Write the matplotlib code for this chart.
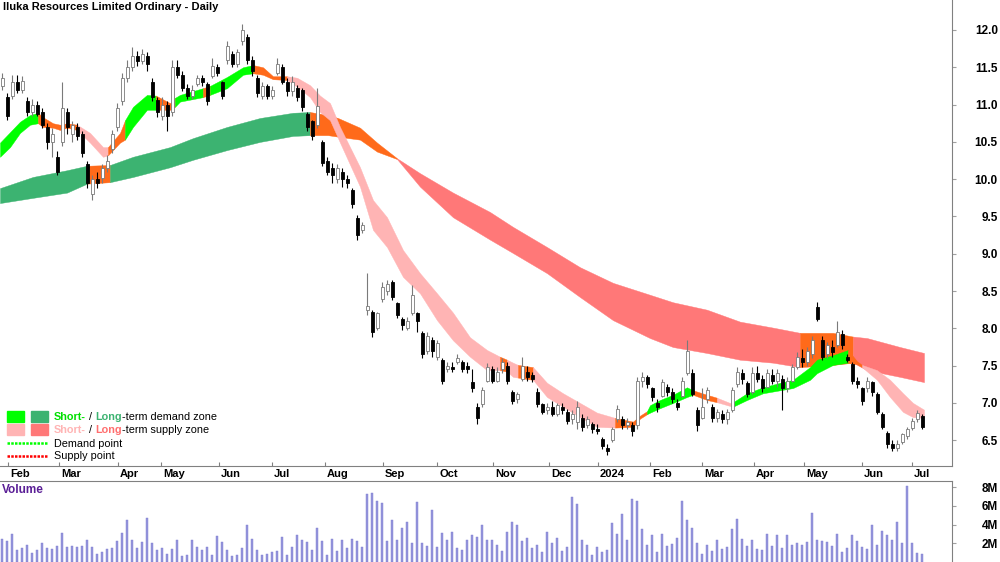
import numpy as np
import matplotlib.pyplot as plt
from matplotlib.patches import Rectangle
from matplotlib.lines import Line2D
from matplotlib.transforms import blended_transform_factory

plt.rcParams['font.family'] = ['Liberation Sans', 'DejaVu Sans']

title = 'Iluka Resources Limited Ordinary - Daily'

# month ticks (trading day index)
month_days = [2.4, 22.8, 46.4, 63.6, 86.8, 108, 129.2, 152.4, 174, 196.4,
              218.8, 238.4, 259.2, 280, 300.8, 320.8, 344, 364]
month_labels = ['Feb', 'Mar', 'Apr', 'May', 'Jun', 'Jul', 'Aug', 'Sep', 'Oct', 'Nov',
                'Dec', '2024', 'Feb', 'Mar', 'Apr', 'May', 'Jun', 'Jul']

# price bars, one every second trading day
opens = [11.25, 11.10, 11.12, 11.30, 11.20, 11.05, 10.90, 11.00, 10.90, 10.70,
         10.50, 10.30, 10.50, 10.90, 10.60, 10.70, 10.60, 10.20, 9.80, 10.00,
         10.02, 10.15, 10.40, 10.70, 11.05, 11.35, 11.50, 11.65, 11.58, 11.65,
         11.30, 11.06, 10.85, 11.00, 10.90, 11.50, 11.40, 11.22, 11.12, 11.28,
         11.35, 11.28, 11.38, 11.50, 11.30, 11.60, 11.68, 11.55, 11.85, 11.90,
         11.60, 11.35, 11.12, 11.25, 11.12, 11.42, 11.50, 11.30, 11.18, 11.22,
         11.20, 10.88, 10.78, 10.72, 10.50, 10.25, 10.15, 10.00, 10.10, 10.00,
         9.85, 9.48, 9.32, 8.25, 8.22, 8.00, 8.40, 8.50, 8.62, 8.34,
         8.12, 8.00, 8.20, 8.20, 7.94, 7.70, 7.85, 7.62, 7.57, 7.45,
         7.48, 7.55, 7.55, 7.50, 7.28, 6.95, 6.98, 7.30, 7.45, 7.30,
         7.45, 7.50, 7.15, 7.05, 7.32, 7.42, 7.38, 7.15, 6.98, 6.90,
         6.95, 6.85, 6.95, 6.88, 6.78, 6.75, 6.80, 6.70, 6.72, 6.65,
         6.52, 6.40, 6.50, 6.78, 6.78, 6.70, 6.70, 6.70, 7.30, 7.35,
         7.20, 7.00, 7.10, 7.22, 7.15, 7.00, 7.10, 7.40, 7.40, 6.90,
         6.80, 7.05, 6.95, 6.80, 6.85, 6.78, 6.90, 7.25, 7.40, 7.27,
         7.15, 7.40, 7.32, 7.22, 7.38, 7.30, 7.32, 7.20, 7.30, 7.48,
         7.60, 7.55, 7.65, 8.28, 7.85, 7.65, 7.75, 7.78, 7.92, 7.62,
         7.52, 7.30, 7.20, 7.20, 7.28, 7.12, 6.85, 6.60, 6.45, 6.40,
         6.48, 6.56, 6.66, 6.78, 6.82]
highs = [11.42, 11.15, 11.40, 11.40, 11.38, 11.10, 11.08, 11.05, 10.95, 10.75,
         10.68, 10.38, 11.30, 10.95, 10.78, 10.75, 10.65, 10.25, 10.05, 10.10,
         10.20, 10.32, 10.66, 11.02, 11.42, 11.60, 11.77, 11.72, 11.75, 11.70,
         11.35, 11.10, 11.10, 11.05, 11.60, 11.60, 11.45, 11.28, 11.26, 11.40,
         11.40, 11.30, 11.62, 11.55, 11.32, 11.85, 11.72, 11.75, 12.08, 11.95,
         11.65, 11.40, 11.30, 11.28, 11.25, 11.62, 11.55, 11.35, 11.38, 11.26,
         11.22, 10.90, 10.80, 11.22, 10.52, 10.30, 10.22, 10.20, 10.15, 10.05,
         9.88, 9.52, 9.42, 8.74, 8.25, 8.22, 8.62, 8.65, 8.65, 8.36,
         8.15, 8.15, 8.58, 8.22, 7.96, 7.95, 7.88, 7.85, 7.60, 7.55,
         7.55, 7.65, 7.58, 7.55, 7.45, 7.00, 7.22, 7.53, 7.50, 7.48,
         7.60, 7.55, 7.18, 7.15, 7.62, 7.50, 7.42, 7.20, 7.00, 7.00,
         7.02, 7.00, 7.00, 6.92, 6.90, 7.02, 6.85, 6.82, 6.75, 6.72,
         6.55, 6.45, 6.68, 6.97, 6.82, 6.80, 6.75, 7.35, 7.42, 7.38,
         7.22, 7.05, 7.32, 7.25, 7.20, 7.05, 7.35, 7.85, 7.45, 6.95,
         7.20, 7.22, 6.98, 6.92, 6.90, 6.92, 7.22, 7.48, 7.45, 7.30,
         7.48, 7.50, 7.38, 7.45, 7.45, 7.45, 7.38, 7.35, 7.52, 7.68,
         7.72, 7.75, 7.90, 8.35, 7.90, 7.82, 7.85, 8.10, 7.98, 7.66,
         7.55, 7.35, 7.22, 7.35, 7.30, 7.15, 6.88, 6.62, 6.50, 6.50,
         6.60, 6.68, 6.80, 6.90, 6.85]
lows = [11.20, 10.80, 11.08, 11.15, 11.15, 10.85, 10.85, 10.85, 10.68, 10.40,
        10.30, 10.05, 10.45, 10.60, 10.50, 10.52, 10.30, 9.88, 9.72, 9.88,
        9.95, 10.10, 10.35, 10.65, 11.00, 11.30, 11.45, 11.52, 11.55, 11.45,
        11.05, 10.83, 10.80, 10.64, 10.85, 11.35, 11.18, 11.08, 11.08, 11.25,
        11.25, 11.00, 11.35, 11.38, 11.08, 11.55, 11.50, 11.50, 11.80, 11.55,
        11.38, 11.10, 11.08, 11.08, 11.08, 11.40, 11.28, 11.12, 11.12, 11.05,
        10.92, 10.65, 10.52, 10.68, 10.18, 10.05, 9.95, 9.95, 9.90, 9.88,
        9.62, 9.18, 9.28, 8.18, 7.88, 7.98, 8.36, 8.45, 8.38, 8.14,
        7.98, 7.98, 8.18, 7.95, 7.60, 7.65, 7.62, 7.57, 7.25, 7.42,
        7.42, 7.52, 7.42, 7.40, 7.15, 6.72, 6.95, 7.28, 7.27, 7.28,
        7.40, 7.25, 6.98, 7.00, 7.30, 7.30, 7.28, 6.95, 6.85, 6.85,
        6.82, 6.82, 6.85, 6.72, 6.72, 6.65, 6.63, 6.66, 6.60, 6.58,
        6.38, 6.30, 6.48, 6.75, 6.65, 6.65, 6.56, 6.65, 7.22, 7.20,
        7.03, 6.88, 7.08, 7.10, 7.00, 6.90, 7.08, 7.38, 7.10, 6.62,
        6.78, 7.00, 6.75, 6.75, 6.73, 6.72, 6.88, 7.22, 7.25, 7.08,
        7.12, 7.28, 7.15, 7.20, 7.25, 7.22, 6.90, 7.15, 7.28, 7.45,
        7.48, 7.50, 7.60, 8.10, 7.58, 7.60, 7.62, 7.75, 7.72, 7.55,
        7.25, 7.20, 6.97, 7.15, 7.10, 6.85, 6.65, 6.40, 6.35, 6.35,
        6.45, 6.52, 6.64, 6.75, 6.65]
closes = [11.35, 10.85, 11.30, 11.20, 11.32, 10.90, 11.00, 10.88, 10.72, 10.50,
          10.60, 10.10, 10.95, 10.70, 10.72, 10.58, 10.35, 9.95, 10.00, 9.95,
          10.15, 10.25, 10.60, 10.95, 11.35, 11.50, 11.65, 11.58, 11.68, 11.55,
          11.10, 10.90, 11.00, 10.85, 11.50, 11.40, 11.22, 11.12, 11.20, 11.35,
          11.30, 11.05, 11.52, 11.42, 11.12, 11.78, 11.55, 11.70, 12.00, 11.60,
          11.45, 11.15, 11.25, 11.12, 11.20, 11.55, 11.30, 11.18, 11.30, 11.10,
          10.97, 10.70, 10.58, 10.98, 10.22, 10.10, 10.05, 10.15, 10.00, 9.95,
          9.67, 9.25, 9.38, 8.30, 7.95, 8.20, 8.55, 8.60, 8.42, 8.18,
          8.05, 8.10, 8.45, 8.10, 7.65, 7.90, 7.70, 7.80, 7.30, 7.50,
          7.46, 7.60, 7.46, 7.45, 7.20, 6.80, 7.18, 7.48, 7.30, 7.42,
          7.55, 7.30, 7.02, 7.12, 7.50, 7.35, 7.32, 6.98, 6.88, 6.95,
          6.85, 6.97, 6.90, 6.76, 6.85, 6.95, 6.68, 6.78, 6.65, 6.62,
          6.42, 6.35, 6.65, 6.92, 6.70, 6.75, 6.62, 7.30, 7.35, 7.25,
          7.08, 6.95, 7.28, 7.15, 7.05, 6.95, 7.30, 7.70, 7.12, 6.70,
          6.95, 7.18, 6.80, 6.88, 6.78, 6.88, 7.18, 7.42, 7.32, 7.12,
          7.40, 7.32, 7.20, 7.40, 7.30, 7.40, 7.20, 7.30, 7.48, 7.62,
          7.55, 7.70, 7.85, 8.12, 7.62, 7.78, 7.68, 7.95, 7.78, 7.58,
          7.30, 7.25, 7.02, 7.30, 7.15, 6.88, 6.68, 6.45, 6.40, 6.45,
          6.58, 6.65, 6.76, 6.86, 6.68]
volume_m = [2.5, 2.2, 3.0, 1.3, 1.5, 1.8, 1.0, 1.3, 2.0, 1.5,
            1.4, 1.7, 3.1, 1.6, 1.7, 1.6, 1.7, 2.4, 1.6, 0.9,
            1.1, 1.4, 1.5, 2.2, 3.1, 4.5, 2.4, 1.5, 2.1, 4.7,
            2.0, 1.3, 1.5, 0.9, 1.4, 2.4, 0.6, 0.8, 2.3, 1.6,
            1.3, 1.6, 0.8, 2.8, 2.1, 1.3, 0.6, 0.8, 1.5, 3.9,
            2.5, 1.3, 0.8, 0.9, 1.1, 1.2, 2.7, 0.8, 1.6, 2.9,
            2.3, 2.1, 1.3, 3.6, 2.2, 0.8, 2.5, 1.2, 2.4, 1.5,
            2.5, 2.2, 1.6, 7.3, 7.4, 6.5, 6.3, 2.2, 4.5, 2.4,
            3.6, 4.3, 2.0, 6.4, 2.0, 1.7, 5.6, 1.6, 3.1, 2.4,
            3.2, 1.5, 1.3, 2.4, 2.9, 2.7, 4.0, 2.4, 2.4, 1.8,
            1.2, 3.2, 4.3, 3.9, 2.2, 2.6, 1.5, 1.8, 1.1, 3.2,
            2.0, 2.6, 1.2, 1.6, 6.9, 6.2, 2.4, 1.8, 0.7, 1.6,
            1.1, 1.3, 4.2, 3.0, 5.1, 2.4, 6.7, 6.5, 3.5, 1.8,
            2.9, 1.1, 3.0, 1.7, 1.9, 2.6, 6.5, 4.5, 3.6, 2.0,
            0.9, 1.8, 1.2, 2.4, 1.4, 1.6, 3.5, 4.6, 2.5, 1.7,
            2.4, 1.4, 1.3, 3.0, 1.7, 2.9, 1.5, 2.9, 1.8, 2.0,
            1.8, 2.1, 5.2, 2.4, 2.2, 2.1, 1.7, 3.0, 1.1, 1.5,
            2.9, 2.2, 1.6, 1.4, 4.0, 1.8, 3.3, 2.9, 2.3, 4.3,
            2.0, 8.1, 2.0, 1.0, 0.9]
days = np.arange(len(closes)) * 2

# long-term zone (edges) and where its colour changes
lt_days = [-0.8, 12.4, 26, 34, 43.2, 52.4, 67.2, 76.4, 90, 103.2,
           116.4, 123.2, 130.4, 134.4, 143.2, 150, 158, 167.2, 180.4, 195.2,
           204.4, 218, 231.2, 244.4, 259.2, 268.4, 282, 295.2, 308.4, 319.2,
           332.4, 340.4, 346, 359.2, 368.8]
lt_top = [9.88, 10.03, 10.12, 10.18, 10.19, 10.30, 10.43, 10.55, 10.70, 10.82,
          10.89, 10.90, 10.86, 10.82, 10.69, 10.49, 10.28, 10.08, 9.82, 9.56,
          9.36, 9.09, 8.82, 8.61, 8.45, 8.35, 8.25, 8.09, 8.01, 7.94,
          7.94, 7.89, 7.87, 7.75, 7.67]
lt_bot = [9.68, 9.75, 9.82, 9.94, 9.96, 10.03, 10.16, 10.26, 10.39, 10.50,
          10.58, 10.59, 10.59, 10.57, 10.53, 10.37, 10.27, 9.90, 9.49, 9.19,
          9.01, 8.74, 8.42, 8.11, 7.87, 7.75, 7.67, 7.58, 7.54, 7.48,
          7.51, 7.54, 7.44, 7.35, 7.28]
lt_start = [0, 3, 4, 11, 16, 29, 31]
lt_zone = ['ld', 'mix', 'ld', 'mix', 'ls', 'mix', 'ls']

# short-term zone
st_days = [-0.8, 3.2, 7.2, 11.2, 14.4, 16.4, 20.4, 23.2, 26, 30,
           35.2, 40.4, 42.4, 47.2, 49.2, 52.4, 58, 61.6, 67.2, 69.2,
           71.2, 80.4, 83.2, 90, 96.4, 100.4, 104.4, 108.4, 114, 118,
           123.2, 127.2, 131.2, 135.2, 143.2, 148.4, 154, 160.4, 167.2, 174,
           180.4, 187.2, 194, 199.2, 202, 204.4, 206.4, 212.4, 218, 224.4,
           231.2, 238, 245.2, 252.4, 255.2, 258, 259.2, 263.2, 268.4, 274,
           276.4, 282, 286, 291.2, 292.4, 298, 304.4, 311.2, 316.4, 323.2,
           326, 332.4, 338.4, 342, 344, 350, 355.2, 360.4, 364.4, 368.8]
st_top = [10.49, 10.63, 10.77, 10.86, 10.89, 10.83, 10.75, 10.73, 10.75, 10.73,
          10.62, 10.43, 10.43, 10.62, 10.79, 10.97, 11.13, 11.12, 11.02, 11.09,
          11.13, 11.22, 11.25, 11.37, 11.50, 11.53, 11.50, 11.38, 11.38, 11.36,
          11.26, 11.12, 11.02, 10.70, 10.16, 9.72, 9.49, 9.05, 8.74, 8.47,
          8.21, 7.88, 7.71, 7.62, 7.58, 7.54, 7.51, 7.48, 7.27, 7.13,
          7.00, 6.87, 6.80, 6.75, 6.83, 6.89, 6.97, 7.04, 7.11, 7.21,
          7.17, 7.11, 7.07, 7.00, 7.01, 7.13, 7.21, 7.27, 7.31, 7.48,
          7.58, 7.64, 7.71, 7.56, 7.51, 7.44, 7.31, 7.13, 7.00, 6.91]
st_bot = [10.30, 10.43, 10.62, 10.73, 10.75, 10.70, 10.69, 10.66, 10.69, 10.66,
          10.49, 10.30, 10.32, 10.49, 10.53, 10.70, 10.93, 10.93, 10.93, 10.97,
          11.04, 11.10, 11.13, 11.22, 11.40, 11.42, 11.40, 11.34, 11.33, 11.24,
          11.10, 10.90, 10.79, 10.49, 9.90, 9.32, 9.09, 8.69, 8.47, 8.11,
          7.84, 7.62, 7.44, 7.44, 7.42, 7.35, 7.34, 7.31, 7.08, 6.95,
          6.81, 6.68, 6.67, 6.68, 6.79, 6.85, 6.87, 6.93, 7.00, 7.08,
          7.11, 7.04, 7.01, 6.96, 6.95, 7.04, 7.13, 7.17, 7.20, 7.31,
          7.40, 7.51, 7.54, 7.52, 7.48, 7.31, 7.08, 6.88, 6.81, 6.80]
st_start = [0, 4, 9, 12, 14, 17, 19, 21, 22, 25, 28,
            43, 44, 46, 47, 52, 55, 60, 62, 64, 72, 74]
st_zone = ['sd', 'mix', 'ss', 'mix', 'sd', 'mix', 'sd', 'mix', 'sd', 'mix', 'ss',
           'mix', 'ss', 'mix', 'ss', 'mix', 'sd', 'mix', 'ss', 'sd', 'mix', 'ss']

zone_colours = {'sd': '#00ff00', 'ld': '#3cb371', 'ss': '#ffb4b4',
                'ls': '#ff7878', 'mix': '#ff6a1a'}

fig = plt.figure(figsize=(10, 5.62), dpi=100)
ax = fig.add_axes([0, 96 / 562, 0.952, 466 / 562])
axv = fig.add_axes([0, 0, 0.952, 81 / 562])


def draw_zone(xs, top, bot, starts, zones):
    for i, z in enumerate(zones):
        i0 = starts[i]
        i1 = starts[i + 1] if i + 1 < len(starts) else len(xs) - 1
        ax.fill_between(xs[i0:i1 + 1], top[i0:i1 + 1], bot[i0:i1 + 1],
                        facecolor=zone_colours[z], edgecolor=zone_colours[z],
                        lw=0.3, zorder=1)


draw_zone(lt_days, lt_top, lt_bot, lt_start, lt_zone)
draw_zone(st_days, st_top, st_bot, st_start, st_zone)

# candles
o = np.array(opens)
c = np.array(closes)
up = c >= o
edge = np.where(up, '#7a7a7a', 'black')
face = np.where(up, 'white', 'black')
ax.vlines(days, lows, highs, colors=edge, lw=0.8, zorder=3)
ax.bar(days, np.where(np.abs(c - o) < 0.01, 0.01, c - o), bottom=o, width=1.2,
       color=face, edgecolor=edge, lw=0.6, zorder=4)

ax.set_xlim(-0.8, 380)
ax.set_ylim(6.155, 12.402)
ax.yaxis.tick_right()
yt = np.arange(6.5, 12.01, 0.5)
ax.set_yticks(yt)
ax.set_yticklabels(['%.1f' % v for v in yt], fontsize=8.5, fontweight='bold', ha='right')
ax.tick_params(axis='y', length=3, color='#a0a0a0', pad=30)
ax.set_xticks(month_days)
ax.set_xticklabels([])
ax.tick_params(axis='x', direction='in', length=3, color='#808080')
for s in ['left', 'top']:
    ax.spines[s].set_visible(False)
for s in ['right', 'bottom']:
    ax.spines[s].set_color('#808080')

trans = blended_transform_factory(ax.transData, ax.transAxes)
for md, lab in zip(month_days, month_labels):
    ax.text(md + 0.8, -8 / 466, lab, transform=trans, ha='left', va='center',
            fontsize=8, fontweight='bold', clip_on=False)

ax.text(0.003, 1 - 7 / 466, title, transform=ax.transAxes, ha='left', va='center',
        fontsize=8, fontweight='bold')

# volume panel
axv.bar(days, volume_m, width=1.0, color='#9696dc', edgecolor='#7c7cd0', lw=0.3, zorder=2)
axv.set_xlim(-0.8, 380)
axv.set_ylim(0, 8.64)
axv.yaxis.tick_right()
axv.set_yticks([2, 4, 6, 8])
axv.set_yticklabels(['2M', '4M', '6M', '8M'], fontsize=8.5, fontweight='bold', ha='right')
axv.tick_params(axis='y', length=3, color='#a0a0a0', pad=30)
axv.set_xticks([])
for s in ['left', 'bottom']:
    axv.spines[s].set_visible(False)
for s in ['right', 'top']:
    axv.spines[s].set_color('#808080')
axv.text(0.002, (562 - 490) / 81, 'Volume', transform=axv.transAxes, ha='left',
         va='center', fontsize=8.5, fontweight='bold', color='#5a1e96')


# legend
def fx(px):
    return px / 1000


def fy(py):
    return (562 - py) / 562


fig.add_artist(Rectangle((fx(7), fy(422)), fx(17), 11 / 562, color=zone_colours['sd'],
                         transform=fig.transFigure))
fig.add_artist(Rectangle((fx(31), fy(422)), fx(17), 11 / 562, color=zone_colours['ld'],
                         transform=fig.transFigure))
fig.add_artist(Rectangle((fx(7), fy(435)), fx(17), 11 / 562, color=zone_colours['ss'],
                         transform=fig.transFigure))
fig.add_artist(Rectangle((fx(31), fy(435)), fx(17), 11 / 562, color=zone_colours['ls'],
                         transform=fig.transFigure))
fig.add_artist(Line2D([fx(7), fx(48)], [fy(443)] * 2, color='#00ff00', lw=1.8,
                      dashes=(1, 0.5), transform=fig.transFigure))
fig.add_artist(Line2D([fx(7), fx(48)], [fy(456)] * 2, color='#ff0000', lw=1.8,
                      dashes=(1, 0.5), transform=fig.transFigure))


def multi_text(x, y, parts):
    t = ax.annotate(parts[0][0], xy=(fx(x), fy(y)), xycoords='figure fraction',
                    ha='left', va='center', fontsize=7.8, color=parts[0][1],
                    fontweight=parts[0][2], annotation_clip=False)
    for s, col, w in parts[1:]:
        t = ax.annotate(s, xy=(1, 0.5), xycoords=t, ha='left', va='center',
                        fontsize=7.8, color=col, fontweight=w, annotation_clip=False)


multi_text(54, 417, [('Short-', '#00e000', 'bold'), (' / ', 'black', 'normal'),
                     ('Long', '#3cb371', 'bold'), ('-term demand zone', 'black', 'normal')])
multi_text(54, 430, [('Short-', '#ffb4b4', 'bold'), (' / ', 'black', 'normal'),
                     ('Long', '#ff6e6e', 'bold'), ('-term supply zone', 'black', 'normal')])
multi_text(54, 444, [('Demand point', 'black', 'normal')])
multi_text(54, 456, [('Supply point', 'black', 'normal')])

fig.savefig('out.png', dpi=100)
